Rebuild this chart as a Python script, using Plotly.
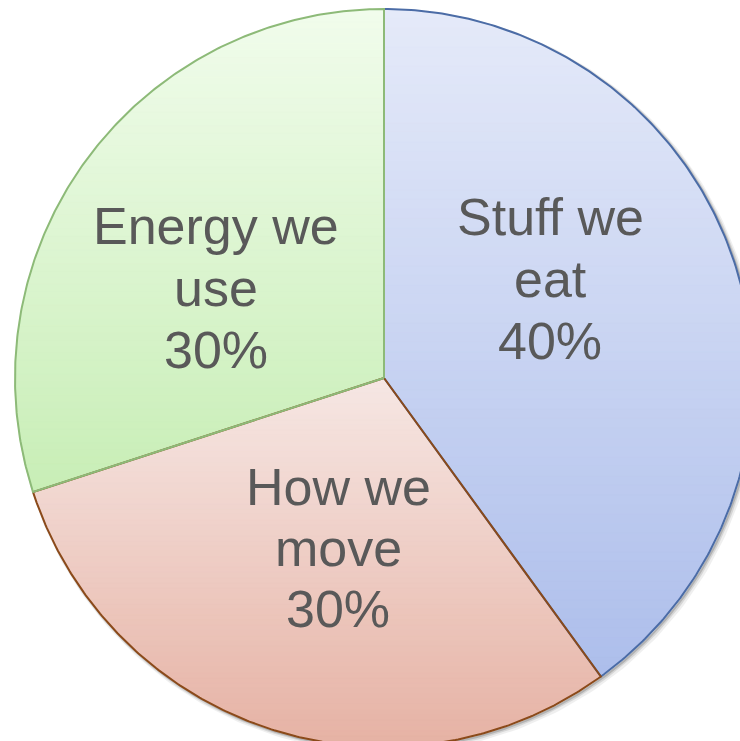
import numpy as np
import plotly.graph_objects as go

# Share of a personal footprint by source
labels = ["Stuff we eat", "How we move", "Energy we use"]
values = [40, 30, 30]
label_lines = [["Stuff we", "eat"], ["How we", "move"], ["Energy we", "use"]]

# Vertical gradient (top colour, bottom colour) and outline per slice
grad_top = [(229, 234, 249), (246, 231, 228), (241, 252, 236)]
grad_bot = [(173, 190, 235), (230, 178, 164), (200, 238, 182)]
edge_col = ["#4B6CA6", "#8B4A1A", "#8DBA78"]

# Layout geometry (pixel-like data units, y pointing down)
W, H = 740, 741
CX, CY, R = 384, 378, 369
label_pos = [(550, 217, 62), (338, 487, 61), (216, 226, 62)]  # x, first line y, line step
N_BANDS = 70


def wedge(a0, a1, n=240):
    t = np.linspace(a0, a1, n)
    xs = np.concatenate([[CX], CX + R * np.cos(t), [CX]])
    ys = np.concatenate([[CY], CY - R * np.sin(t), [CY]])
    return list(zip(xs, ys))


def clip(poly, y, keep_below):
    out = []
    n = len(poly)
    for i in range(n):
        p, q = poly[i], poly[(i + 1) % n]
        pin = (p[1] >= y) if keep_below else (p[1] <= y)
        qin = (q[1] >= y) if keep_below else (q[1] <= y)
        if pin:
            out.append(p)
        if pin != qin:
            f = (y - p[1]) / (q[1] - p[1])
            out.append((p[0] + f * (q[0] - p[0]), y))
    return out


fig = go.Figure()

# soft drop shadow behind the disc
ring = np.linspace(0, 2 * np.pi, 400)
for off, w, op in [(3, 6, 0.06), (2, 4, 0.10), (1.5, 2, 0.16)]:
    fig.add_trace(go.Scatter(
        x=CX + off + R * np.cos(ring), y=CY + off + R * np.sin(ring),
        mode="lines", line=dict(color="#000000", width=w), opacity=op,
        hoverinfo="skip", showlegend=False))

total = sum(values)
start = np.pi / 2
angles = []
for v in values:
    end = start - 2 * np.pi * v / total
    angles.append((start, end))
    start = end

# gradient fills, built from horizontal bands of each wedge
for i, (a0, a1) in enumerate(angles):
    poly = wedge(a0, a1)
    ys = [p[1] for p in poly]
    ytop, ybot = min(ys), max(ys)
    edges = np.linspace(ytop, ybot, N_BANDS + 1)
    top = np.array(grad_top[i], float)
    bot = np.array(grad_bot[i], float)
    for k in range(N_BANDS):
        band = clip(clip(poly, edges[k] - 0.6, True), edges[k + 1] + 0.6, False)
        if len(band) < 3:
            continue
        f = (k + 0.5) / N_BANDS
        c = top + (bot - top) * f
        col = "rgb(%d,%d,%d)" % tuple(np.round(c))
        bx = [p[0] for p in band] + [band[0][0]]
        by = [p[1] for p in band] + [band[0][1]]
        fig.add_trace(go.Scatter(
            x=bx, y=by, mode="lines", fill="toself", fillcolor=col,
            line=dict(color=col, width=0.6), hoverinfo="skip", showlegend=False))

# slice outlines
for i, (a0, a1) in enumerate(angles):
    poly = wedge(a0, a1)
    fig.add_trace(go.Scatter(
        x=[p[0] for p in poly], y=[p[1] for p in poly], mode="lines",
        line=dict(color=edge_col[i], width=2), hoverinfo="skip",
        name=labels[i], showlegend=False))

# slice labels with percentage
for i, v in enumerate(values):
    x0, y0, step = label_pos[i]
    lines = label_lines[i] + ["%d%%" % round(100 * v / total)]
    for j, txt in enumerate(lines):
        fig.add_annotation(
            x=x0, y=y0 + j * step, text=txt, showarrow=False,
            xanchor="center", yanchor="middle",
            font=dict(family="Liberation Sans, Arial, sans-serif", size=52, color="#595959"))

fig.update_layout(
    width=W, height=H, margin=dict(l=0, r=0, t=0, b=0),
    paper_bgcolor="white", plot_bgcolor="white",
    xaxis=dict(range=[0, W], visible=False, fixedrange=True),
    yaxis=dict(range=[H, 0], visible=False, fixedrange=True),
    showlegend=False,
)

fig.write_html("out.html")
